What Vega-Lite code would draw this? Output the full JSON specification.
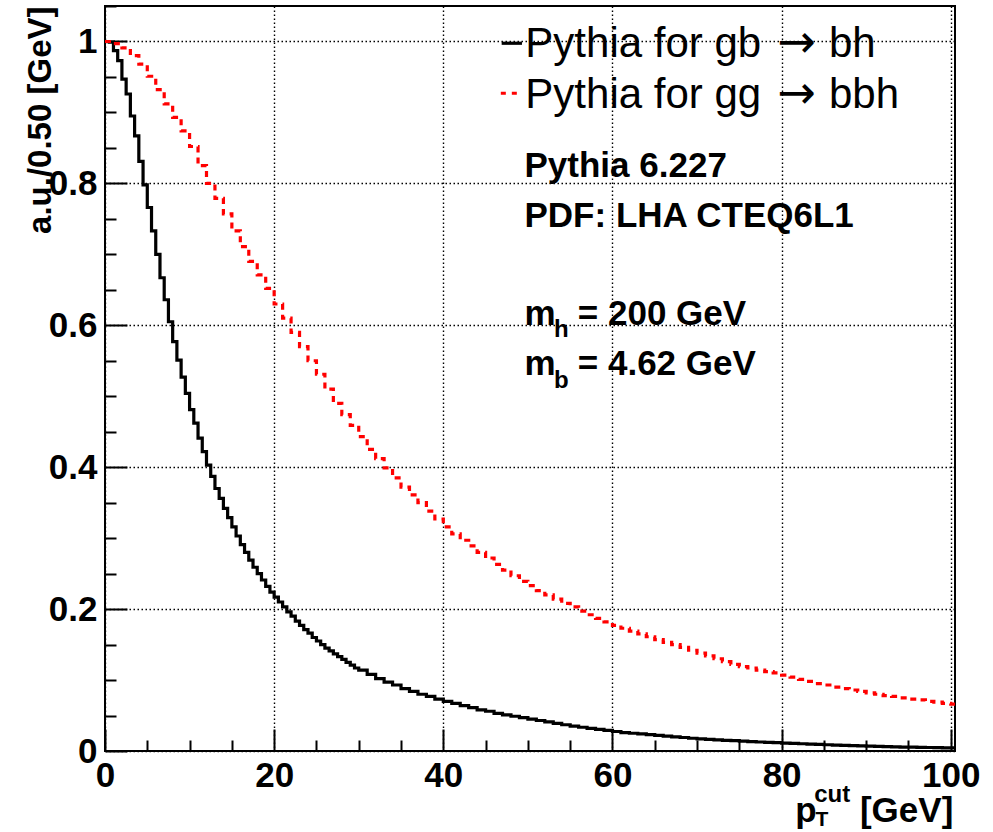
{
  "$schema": "https://vega.github.io/schema/vega-lite/v6.json",
  "width": 850,
  "height": 745,
  "autosize": {"type": "none"},
  "padding": {"left": 105, "top": 6, "right": 38, "bottom": 81},
  "background": "white",
  "config": {"view": {"stroke": "#000", "strokeWidth": 2}, "font": "Liberation Sans"},
  "datasets": {
    "black": [
      {"pt":0,"v":1.0},{"pt":0.5,"v":0.999},{"pt":1,"v":0.987},{"pt":1.5,"v":0.973},{"pt":2,"v":0.947},{"pt":2.5,"v":0.926},{"pt":3,"v":0.895},{"pt":3.5,"v":0.867},{"pt":4,"v":0.831},{"pt":4.5,"v":0.798},
      {"pt":5,"v":0.766},{"pt":5.5,"v":0.733},{"pt":6,"v":0.700},{"pt":6.5,"v":0.667},{"pt":7,"v":0.636},{"pt":7.5,"v":0.605},{"pt":8,"v":0.577},{"pt":8.5,"v":0.551},{"pt":9,"v":0.527},{"pt":9.5,"v":0.504},
      {"pt":10,"v":0.481},{"pt":10.5,"v":0.462},{"pt":11,"v":0.441},{"pt":11.5,"v":0.422},{"pt":12,"v":0.403},{"pt":12.5,"v":0.387},{"pt":13,"v":0.370},{"pt":13.5,"v":0.356},{"pt":14,"v":0.342},{"pt":14.5,"v":0.329},
      {"pt":15,"v":0.316},{"pt":15.5,"v":0.303},{"pt":16,"v":0.291},{"pt":16.5,"v":0.280},{"pt":17,"v":0.269},{"pt":17.5,"v":0.259},{"pt":18,"v":0.250},{"pt":18.5,"v":0.241},{"pt":19,"v":0.232},{"pt":19.5,"v":0.224},
      {"pt":20,"v":0.217},{"pt":20.5,"v":0.210},{"pt":21,"v":0.203},{"pt":21.5,"v":0.196},{"pt":22,"v":0.190},{"pt":22.5,"v":0.183},{"pt":23,"v":0.177},{"pt":23.5,"v":0.171},{"pt":24,"v":0.166},{"pt":24.5,"v":0.160},
      {"pt":25,"v":0.155},{"pt":25.5,"v":0.150},{"pt":26,"v":0.145},{"pt":26.5,"v":0.141},{"pt":27,"v":0.137},{"pt":27.5,"v":0.133},{"pt":28,"v":0.129},{"pt":28.5,"v":0.125},{"pt":29,"v":0.121},{"pt":29.5,"v":0.117},
      {"pt":30,"v":0.114},{"pt":31,"v":0.108},{"pt":32,"v":0.102},{"pt":33,"v":0.097},{"pt":34,"v":0.093},{"pt":35,"v":0.088},{"pt":36,"v":0.084},{"pt":37,"v":0.080},{"pt":38,"v":0.077},{"pt":39,"v":0.073},
      {"pt":40,"v":0.070},{"pt":41,"v":0.067},{"pt":42,"v":0.064},{"pt":43,"v":0.061},{"pt":44,"v":0.058},{"pt":45,"v":0.056},{"pt":46,"v":0.053},{"pt":47,"v":0.051},{"pt":48,"v":0.049},{"pt":49,"v":0.047},
      {"pt":50,"v":0.045},{"pt":51,"v":0.043},{"pt":52,"v":0.041},{"pt":53,"v":0.039},{"pt":54,"v":0.037},{"pt":55,"v":0.035},{"pt":56,"v":0.0335},{"pt":57,"v":0.032},{"pt":58,"v":0.0305},{"pt":59,"v":0.029},
      {"pt":60,"v":0.0275},{"pt":61,"v":0.026},{"pt":62,"v":0.025},{"pt":63,"v":0.024},{"pt":64,"v":0.023},{"pt":65,"v":0.022},{"pt":66,"v":0.021},{"pt":67,"v":0.020},{"pt":68,"v":0.019},{"pt":69,"v":0.018},
      {"pt":70,"v":0.0172},{"pt":71,"v":0.0165},{"pt":72,"v":0.0158},{"pt":73,"v":0.0151},{"pt":74,"v":0.0145},{"pt":75,"v":0.0139},{"pt":76,"v":0.0133},{"pt":77,"v":0.0127},{"pt":78,"v":0.0122},{"pt":79,"v":0.0117},
      {"pt":80,"v":0.0112},{"pt":81,"v":0.0107},{"pt":82,"v":0.0102},{"pt":83,"v":0.0097},{"pt":84,"v":0.0092},{"pt":85,"v":0.0088},{"pt":86,"v":0.0084},{"pt":87,"v":0.0080},{"pt":88,"v":0.0076},{"pt":89,"v":0.0072},
      {"pt":90,"v":0.0068},{"pt":91,"v":0.0065},{"pt":92,"v":0.0062},{"pt":93,"v":0.0059},{"pt":94,"v":0.0056},{"pt":95,"v":0.0054},{"pt":96,"v":0.0051},{"pt":97,"v":0.0049},{"pt":98,"v":0.0047},{"pt":99,"v":0.0045},
      {"pt":100,"v":0.0044},{"pt":100.5,"v":0.0044}
    ],
    "red": [
      {"pt":0,"v":1.000},{"pt":1,"v":0.997},{"pt":2,"v":0.991},{"pt":3,"v":0.980},{"pt":4,"v":0.968},{"pt":5,"v":0.951},{"pt":6,"v":0.932},{"pt":7,"v":0.912},{"pt":8,"v":0.893},{"pt":9,"v":0.874},
      {"pt":10,"v":0.852},{"pt":11,"v":0.825},{"pt":12,"v":0.800},{"pt":13,"v":0.779},{"pt":14,"v":0.757},{"pt":15,"v":0.733},{"pt":16,"v":0.711},{"pt":17,"v":0.690},{"pt":18,"v":0.671},{"pt":19,"v":0.652},
      {"pt":20,"v":0.630},{"pt":21,"v":0.610},{"pt":22,"v":0.590},{"pt":23,"v":0.570},{"pt":24,"v":0.550},{"pt":25,"v":0.531},{"pt":26,"v":0.510},{"pt":27,"v":0.490},{"pt":28,"v":0.474},{"pt":29,"v":0.459},
      {"pt":30,"v":0.443},{"pt":31,"v":0.425},{"pt":32,"v":0.412},{"pt":33,"v":0.399},{"pt":34,"v":0.385},{"pt":35,"v":0.372},{"pt":36,"v":0.361},{"pt":37,"v":0.350},{"pt":38,"v":0.338},{"pt":39,"v":0.327},
      {"pt":40,"v":0.316},{"pt":41,"v":0.306},{"pt":42,"v":0.297},{"pt":43,"v":0.289},{"pt":44,"v":0.280},{"pt":45,"v":0.272},{"pt":46,"v":0.263},{"pt":47,"v":0.255},{"pt":48,"v":0.247},{"pt":49,"v":0.239},
      {"pt":50,"v":0.233},{"pt":51,"v":0.226},{"pt":52,"v":0.220},{"pt":53,"v":0.214},{"pt":54,"v":0.208},{"pt":55,"v":0.203},{"pt":56,"v":0.197},{"pt":57,"v":0.192},{"pt":58,"v":0.187},{"pt":59,"v":0.182},
      {"pt":60,"v":0.177},{"pt":61,"v":0.173},{"pt":62,"v":0.169},{"pt":63,"v":0.165},{"pt":64,"v":0.161},{"pt":65,"v":0.157},{"pt":66,"v":0.153},{"pt":67,"v":0.150},{"pt":68,"v":0.146},{"pt":69,"v":0.142},
      {"pt":70,"v":0.138},{"pt":71,"v":0.134},{"pt":72,"v":0.130},{"pt":73,"v":0.126},{"pt":74,"v":0.122},{"pt":75,"v":0.119},{"pt":76,"v":0.117},{"pt":77,"v":0.114},{"pt":78,"v":0.112},{"pt":79,"v":0.110},
      {"pt":80,"v":0.107},{"pt":81,"v":0.104},{"pt":82,"v":0.101},{"pt":83,"v":0.098},{"pt":84,"v":0.095},{"pt":85,"v":0.093},{"pt":86,"v":0.090},{"pt":87,"v":0.088},{"pt":88,"v":0.086},{"pt":89,"v":0.084},
      {"pt":90,"v":0.082},{"pt":91,"v":0.080},{"pt":92,"v":0.078},{"pt":93,"v":0.077},{"pt":94,"v":0.075},{"pt":95,"v":0.073},{"pt":96,"v":0.072},{"pt":97,"v":0.070},{"pt":98,"v":0.069},{"pt":99,"v":0.067},
      {"pt":100,"v":0.066},{"pt":100.5,"v":0.066}
    ]
  },
  "resolve": {"axis": {"x": "independent", "y": "independent"}},
  "layer": [
    {
      "data": {"name": "black"},
      "mark": {"type": "line", "interpolate": "step-after", "color": "#000", "strokeWidth": 3.2},
      "encoding": {
        "x": {"field": "pt", "type": "quantitative",
          "scale": {"domain": [0, 100.5], "nice": false, "zero": false},
          "axis": {"orient": "bottom", "values": [0, 20, 40, 60, 80, 100], "ticks": false, "domain": false,
            "grid": true, "gridDash": [1.5, 2.5], "gridColor": "#000", "gridWidth": 1.4, "gridOpacity": 1,
            "labelFont": "Liberation Sans", "labelFontWeight": "bold", "labelFontSize": 35, "labelColor": "#000",
            "labelPadding": 7, "labelFlush": false, "labelOverlap": false, "title": null}},
        "y": {"field": "v", "type": "quantitative",
          "scale": {"domain": [0, 1.05], "nice": false, "zero": false},
          "axis": {"orient": "left", "values": [0, 0.2, 0.4, 0.6, 0.8, 1], "format": "~g", "ticks": false, "domain": false,
            "grid": true, "gridDash": [1.5, 2.5], "gridColor": "#000", "gridWidth": 1.4, "gridOpacity": 1,
            "labelFont": "Liberation Sans", "labelFontWeight": "bold", "labelFontSize": 35, "labelColor": "#000",
            "labelPadding": 8, "labelOverlap": false, "labelFlush": false,
            "title": "a.u./0.50 [GeV]", "titleFont": "Liberation Sans", "titleFontWeight": "bold", "titleFontSize": 33,
            "titleColor": "#000", "titleAngle": -90, "titleAnchor": "end", "titleAlign": "right", "titleBaseline": "alphabetic",
            "titleX": -55, "titleY": 0}}
      }
    },
    {
      "data": {"name": "red"},
      "mark": {"type": "line", "interpolate": "step-after", "color": "#ff0000", "strokeWidth": 3.2, "strokeDash": [6, 5]},
      "encoding": {
        "x": {"field": "pt", "type": "quantitative",
          "scale": {"domain": [0, 100.5], "nice": false, "zero": false},
          "axis": {"orient": "bottom", "values": [0, 20, 40, 60, 80, 100], "ticks": true, "tickSize": -22, "tickWidth": 2, "tickColor": "#000",
            "labels": false, "domain": false, "grid": false, "title": null}},
        "y": {"field": "v", "type": "quantitative",
          "scale": {"domain": [0, 1.05], "nice": false, "zero": false},
          "axis": {"orient": "left", "values": [0, 0.2, 0.4, 0.6, 0.8, 1], "ticks": true, "tickSize": -22, "tickWidth": 2, "tickColor": "#000",
            "labels": false, "domain": false, "grid": false, "title": null}}
      }
    },
    {
      "data": {"values": [{}]},
      "mark": {"type": "rule", "color": "#000", "strokeWidth": 3.2},
      "encoding": {
        "x": {"datum": 46.9, "type": "quantitative", "scale": {"domain": [0, 100.5], "nice": false, "zero": false},
          "axis": {"orient": "bottom", "values": [5,10,15,25,30,35,45,50,55,65,70,75,85,90,95], "ticks": true, "tickSize": -11, "tickWidth": 2, "tickColor": "#000",
            "labels": false, "domain": false, "grid": false, "title": null}},
        "x2": {"datum": 49.3},
        "y": {"datum": 0.9975, "type": "quantitative", "scale": {"domain": [0, 1.05], "nice": false, "zero": false},
          "axis": {"orient": "left", "values": [0.05,0.1,0.15,0.25,0.3,0.35,0.45,0.5,0.55,0.65,0.7,0.75,0.85,0.9,0.95,1.05], "ticks": true, "tickSize": -11, "tickWidth": 2, "tickColor": "#000",
            "labels": false, "domain": false, "grid": false, "title": null}}
      }
    },
    {
      "data": {"values": [{}]},
      "mark": {"type": "rule", "color": "#ff0000", "strokeWidth": 3.2, "strokeDash": [5, 6]},
      "encoding": {
        "x": {"datum": 46.8, "type": "quantitative", "axis": null},
        "x2": {"datum": 48.8},
        "y": {"datum": 0.927, "type": "quantitative", "axis": null}
      }
    },
    {
      "data": {"values": [{}]},
      "mark": {"type": "text", "text": "Pythia for gb", "font": "Liberation Sans", "fontSize": 42, "align": "left", "baseline": "alphabetic", "color": "#000"},
      "encoding": {"x": {"datum": 49.7, "type": "quantitative", "axis": null}, "y": {"datum": 0.9786, "type": "quantitative", "axis": null}}
    },
    {
      "data": {"values": [{}]},
      "mark": {"type": "text", "text": "\u2192", "font": "DejaVu Sans", "fontSize": 46, "align": "left", "baseline": "alphabetic", "color": "#000"},
      "encoding": {"x": {"datum": 79.5, "type": "quantitative", "axis": null}, "y": {"datum": 0.9786, "type": "quantitative", "axis": null}}
    },
    {
      "data": {"values": [{}]},
      "mark": {"type": "text", "text": "bh", "font": "Liberation Sans", "fontSize": 42, "align": "left", "baseline": "alphabetic", "color": "#000"},
      "encoding": {"x": {"datum": 85.6, "type": "quantitative", "axis": null}, "y": {"datum": 0.9786, "type": "quantitative", "axis": null}}
    },
    {
      "data": {"values": [{}]},
      "mark": {"type": "text", "text": "Pythia for gg", "font": "Liberation Sans", "fontSize": 42, "align": "left", "baseline": "alphabetic", "color": "#000"},
      "encoding": {"x": {"datum": 49.7, "type": "quantitative", "axis": null}, "y": {"datum": 0.9058, "type": "quantitative", "axis": null}}
    },
    {
      "data": {"values": [{}]},
      "mark": {"type": "text", "text": "\u2192", "font": "DejaVu Sans", "fontSize": 46, "align": "left", "baseline": "alphabetic", "color": "#000"},
      "encoding": {"x": {"datum": 79.5, "type": "quantitative", "axis": null}, "y": {"datum": 0.9058, "type": "quantitative", "axis": null}}
    },
    {
      "data": {"values": [{}]},
      "mark": {"type": "text", "text": "bbh", "font": "Liberation Sans", "fontSize": 42, "align": "left", "baseline": "alphabetic", "color": "#000"},
      "encoding": {"x": {"datum": 85.6, "type": "quantitative", "axis": null}, "y": {"datum": 0.9058, "type": "quantitative", "axis": null}}
    },
    {
      "data": {"values": [{}]},
      "mark": {"type": "text", "text": "Pythia 6.227", "font": "Liberation Sans", "fontWeight": "bold", "fontSize": 35, "align": "left", "baseline": "alphabetic", "color": "#000"},
      "encoding": {"x": {"datum": 49.6, "type": "quantitative", "axis": null}, "y": {"datum": 0.8094, "type": "quantitative", "axis": null}}
    },
    {
      "data": {"values": [{}]},
      "mark": {"type": "text", "text": "PDF: LHA CTEQ6L1", "font": "Liberation Sans", "fontWeight": "bold", "fontSize": 35, "align": "left", "baseline": "alphabetic", "color": "#000"},
      "encoding": {"x": {"datum": 49.6, "type": "quantitative", "axis": null}, "y": {"datum": 0.739, "type": "quantitative", "axis": null}}
    },
    {
      "data": {"values": [{}]},
      "mark": {"type": "text", "text": "m", "font": "Liberation Sans", "fontWeight": "bold", "fontSize": 35, "align": "left", "baseline": "alphabetic", "color": "#000"},
      "encoding": {"x": {"datum": 49.6, "type": "quantitative", "axis": null}, "y": {"datum": 0.6004, "type": "quantitative", "axis": null}}
    },
    {
      "data": {"values": [{}]},
      "mark": {"type": "text", "text": "h", "font": "Liberation Sans", "fontWeight": "bold", "fontSize": 24, "align": "left", "baseline": "alphabetic", "color": "#000"},
      "encoding": {"x": {"datum": 53.1, "type": "quantitative", "axis": null}, "y": {"datum": 0.5828, "type": "quantitative", "axis": null}}
    },
    {
      "data": {"values": [{}]},
      "mark": {"type": "text", "text": "= 200 GeV", "font": "Liberation Sans", "fontWeight": "bold", "fontSize": 35, "align": "left", "baseline": "alphabetic", "color": "#000"},
      "encoding": {"x": {"datum": 55.9, "type": "quantitative", "axis": null}, "y": {"datum": 0.6004, "type": "quantitative", "axis": null}}
    },
    {
      "data": {"values": [{}]},
      "mark": {"type": "text", "text": "m", "font": "Liberation Sans", "fontWeight": "bold", "fontSize": 35, "align": "left", "baseline": "alphabetic", "color": "#000"},
      "encoding": {"x": {"datum": 49.6, "type": "quantitative", "axis": null}, "y": {"datum": 0.530, "type": "quantitative", "axis": null}}
    },
    {
      "data": {"values": [{}]},
      "mark": {"type": "text", "text": "b", "font": "Liberation Sans", "fontWeight": "bold", "fontSize": 24, "align": "left", "baseline": "alphabetic", "color": "#000"},
      "encoding": {"x": {"datum": 53.1, "type": "quantitative", "axis": null}, "y": {"datum": 0.5123, "type": "quantitative", "axis": null}}
    },
    {
      "data": {"values": [{}]},
      "mark": {"type": "text", "text": "= 4.62 GeV", "font": "Liberation Sans", "fontWeight": "bold", "fontSize": 35, "align": "left", "baseline": "alphabetic", "color": "#000"},
      "encoding": {"x": {"datum": 55.9, "type": "quantitative", "axis": null}, "y": {"datum": 0.530, "type": "quantitative", "axis": null}}
    },
    {
      "data": {"values": [{}]},
      "mark": {"type": "text", "text": "p", "font": "Liberation Sans", "fontWeight": "bold", "fontSize": 35, "align": "left", "baseline": "alphabetic", "color": "#000"},
      "encoding": {"x": {"datum": 81.6, "type": "quantitative", "axis": null}, "y": {"datum": -0.0996, "type": "quantitative", "axis": null}}
    },
    {
      "data": {"values": [{}]},
      "mark": {"type": "text", "text": "T", "font": "Liberation Sans", "fontWeight": "bold", "fontSize": 21, "align": "left", "baseline": "alphabetic", "color": "#000"},
      "encoding": {"x": {"datum": 84.0, "type": "quantitative", "axis": null}, "y": {"datum": -0.1055, "type": "quantitative", "axis": null}}
    },
    {
      "data": {"values": [{}]},
      "mark": {"type": "text", "text": "cut", "font": "Liberation Sans", "fontWeight": "bold", "fontSize": 24, "align": "left", "baseline": "alphabetic", "color": "#000"},
      "encoding": {"x": {"datum": 83.85, "type": "quantitative", "axis": null}, "y": {"datum": -0.0725, "type": "quantitative", "axis": null}}
    },
    {
      "data": {"values": [{}]},
      "mark": {"type": "text", "text": "[GeV]", "font": "Liberation Sans", "fontWeight": "bold", "fontSize": 35, "align": "right", "baseline": "alphabetic", "color": "#000"},
      "encoding": {"x": {"datum": 100.3, "type": "quantitative", "axis": null}, "y": {"datum": -0.0996, "type": "quantitative", "axis": null}}
    }
  ]
}
